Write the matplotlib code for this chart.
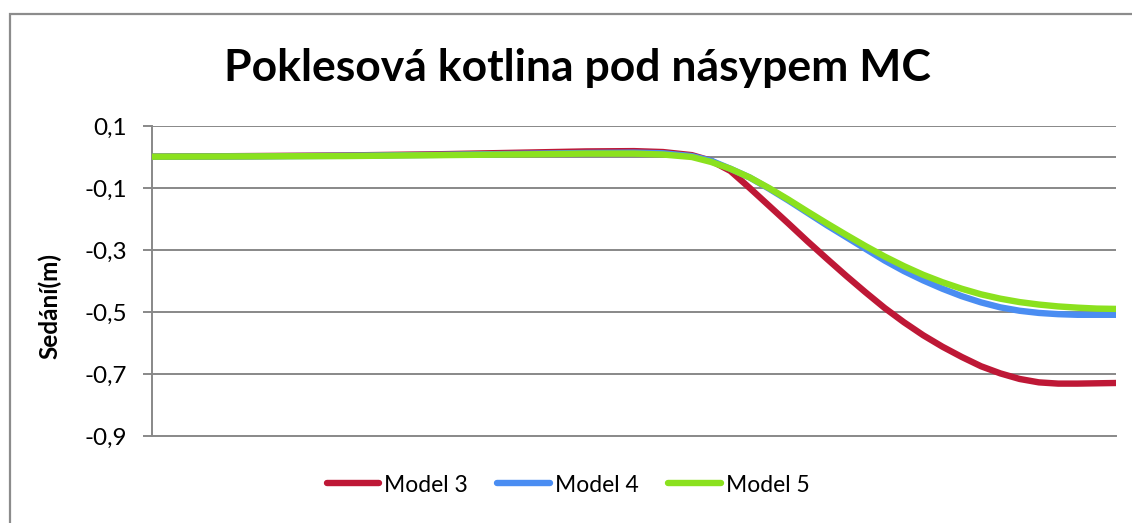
import matplotlib
matplotlib.use("Agg")
import matplotlib.pyplot as plt
from matplotlib.patches import Rectangle

# Distance along the profile (relative position, 0-100)
distance = [0, 10, 20, 30, 40, 45, 50, 53, 56, 58, 60, 62, 64, 66, 68, 70,
            72, 74, 76, 78, 80, 82, 84, 86, 88, 90, 92, 94, 96, 98, 100]

# Settlement (m) for each model
model_3 = [0.001, 0.003, 0.005, 0.009, 0.015, 0.018, 0.019, 0.016, 0.006, -0.012,
           -0.045, -0.100, -0.157, -0.214, -0.272, -0.328, -0.383, -0.436, -0.487,
           -0.533, -0.575, -0.612, -0.645, -0.675, -0.698, -0.716, -0.727, -0.731,
           -0.731, -0.730, -0.729]
model_4 = [0.001, 0.002, 0.004, 0.007, 0.011, 0.013, 0.014, 0.012, 0.003, -0.012,
           -0.038, -0.066, -0.102, -0.140, -0.180, -0.220, -0.258, -0.296, -0.334,
           -0.368, -0.398, -0.425, -0.449, -0.469, -0.485, -0.496, -0.503, -0.507,
           -0.509, -0.509, -0.509]
model_5 = [0.001, 0.002, 0.003, 0.006, 0.009, 0.011, 0.011, 0.008, 0.000, -0.016,
           -0.038, -0.066, -0.100, -0.137, -0.176, -0.214, -0.251, -0.287, -0.321,
           -0.352, -0.380, -0.404, -0.425, -0.443, -0.457, -0.468, -0.476, -0.482,
           -0.486, -0.489, -0.490]

series_names = ["Model 3", "Model 4", "Model 5"]
series_colors = ["#BE1836", "#4A8DF2", "#8BE11E"]

y_ticks = [0.1, -0.1, -0.3, -0.5, -0.7, -0.9]
y_tick_labels = ["0,1", "-0,1", "-0,3", "-0,5", "-0,7", "-0,9"]

title = "Poklesová kotlina pod násypem MC"
y_label = "Sedání(m)"

plt.rcParams['font.family'] = ['Lato', 'DejaVu Sans']

fig = plt.figure(figsize=(11.32, 5.23), dpi=100)
ax = fig.add_axes([152 / 1132, 1 - 436 / 523, (1116 - 152) / 1132, (436 - 126) / 523])

grid_color = "#888888"

# Chart area frame
fig.patches.append(Rectangle((10 / 1132, -0.1), 1.2, 1 - 14 / 523 + 0.1,
                             transform=fig.transFigure, fill=False,
                             edgecolor="#8c8c8c", linewidth=1.6))

for y in y_ticks[:-1]:
    ax.axhline(y, color=grid_color, linewidth=1.4, zorder=1)
# horizontal category axis crossing at zero
ax.axhline(0.0, color=grid_color, linewidth=1.4, zorder=1)

for vals, name, col in zip([model_3, model_4, model_5], series_names, series_colors):
    ax.plot(distance, vals, color=col, linewidth=4.6, label=name,
            solid_capstyle="round", solid_joinstyle="round", zorder=3)

ax.set_xlim(0, 100)
ax.set_ylim(-0.9, 0.1)
ax.set_yticks(y_ticks)
ax.set_yticklabels(y_tick_labels, fontsize=17.5)
ax.set_xticks([])
ax.tick_params(axis="y", length=6.5, width=1.4, color=grid_color, pad=11.5)

for side in ["top", "right"]:
    ax.spines[side].set_visible(False)
for side in ["left", "bottom"]:
    ax.spines[side].set_color(grid_color)
    ax.spines[side].set_linewidth(1.4)

ax.set_ylabel(y_label, fontsize=17.5, fontweight="bold")
ax.yaxis.set_label_coords(-90 / 964, 0.42)

fig.text(577 / 1132, 1 - 68 / 523, title, ha="center", va="center",
         fontsize=32, fontweight="bold")

leg = fig.legend(loc="center", bbox_to_anchor=(568 / 1132, 1 - 485 / 523), ncol=3,
                 frameon=False, fontsize=16.5, handlelength=2.3, handletextpad=0.2,
                 columnspacing=1.3)

fig.savefig("out.png", dpi=100, facecolor="white")
